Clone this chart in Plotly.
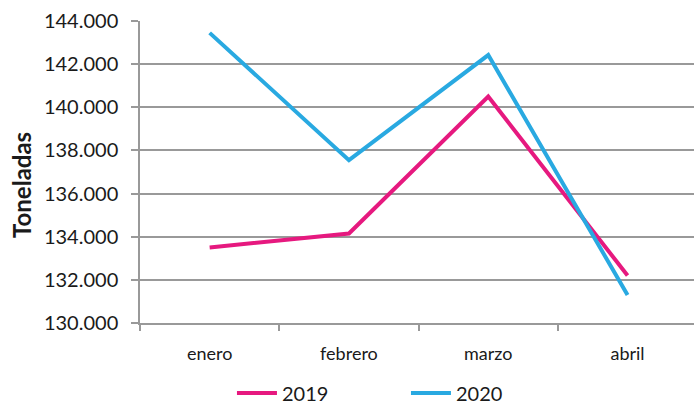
import plotly.graph_objects as go

meses = ["enero", "febrero", "marzo", "abril"]
serie_2019 = [133500, 134150, 140500, 132200]
serie_2020 = [143450, 137550, 142420, 131300]
y_ticks = [130000, 132000, 134000, 136000, 138000, 140000, 142000, 144000]
y_tick_labels = ["130.000", "132.000", "134.000", "136.000", "138.000", "140.000", "142.000", "144.000"]

FONT = "Lato"

fig = go.Figure()
fig.add_trace(go.Scatter(x=meses, y=serie_2019, mode="lines", name="2019",
                         line=dict(color="#E6197F", width=4)))
fig.add_trace(go.Scatter(x=meses, y=serie_2020, mode="lines", name="2020",
                         line=dict(color="#29A9E1", width=4)))

fig.update_layout(
    width=694, height=405,
    margin=dict(l=140, r=0, t=21, b=82, autoexpand=False),
    paper_bgcolor="white", plot_bgcolor="white",
    font=dict(family=FONT, color="#1a1a1a", size=17),
    showlegend=True,
    legend=dict(orientation="h", x=0.166, xanchor="left", y=-0.232, yanchor="middle",
                font=dict(size=20, family=FONT), itemwidth=40,
                traceorder="normal", entrywidth=119),
    xaxis=dict(type="category", range=[-0.5, 3.477], tickson="boundaries",
               ticks="outside", ticklen=6, tickcolor="#999999", tickwidth=1.5,
               showgrid=False, showline=True, linecolor="#999999", linewidth=1.5,
               tickfont=dict(size=18, family=FONT), ticklabelstandoff=14,
               automargin=False),
    yaxis=dict(range=[130000, 144000], tickvals=y_ticks, ticktext=y_tick_labels,
               ticks="outside", ticklen=7, tickcolor="#999999", tickwidth=1.5,
               showgrid=True, gridcolor="#999999", gridwidth=1.5,
               showline=True, linecolor="#999999", linewidth=1.5,
               zeroline=False, tickfont=dict(size=20, family=FONT),
               ticklabelstandoff=9, automargin=False),
    annotations=[dict(text="<b>Toneladas</b>", textangle=-90, showarrow=False,
                      xref="paper", yref="paper", x=-0.213, y=0.457,
                      xanchor="center", yanchor="middle",
                      font=dict(size=24, family=FONT, color="#1a1a1a"))],
)

fig.write_html("out.html", config={"displayModeBar": False},
               post_script="document.body.style.margin='0px';")
